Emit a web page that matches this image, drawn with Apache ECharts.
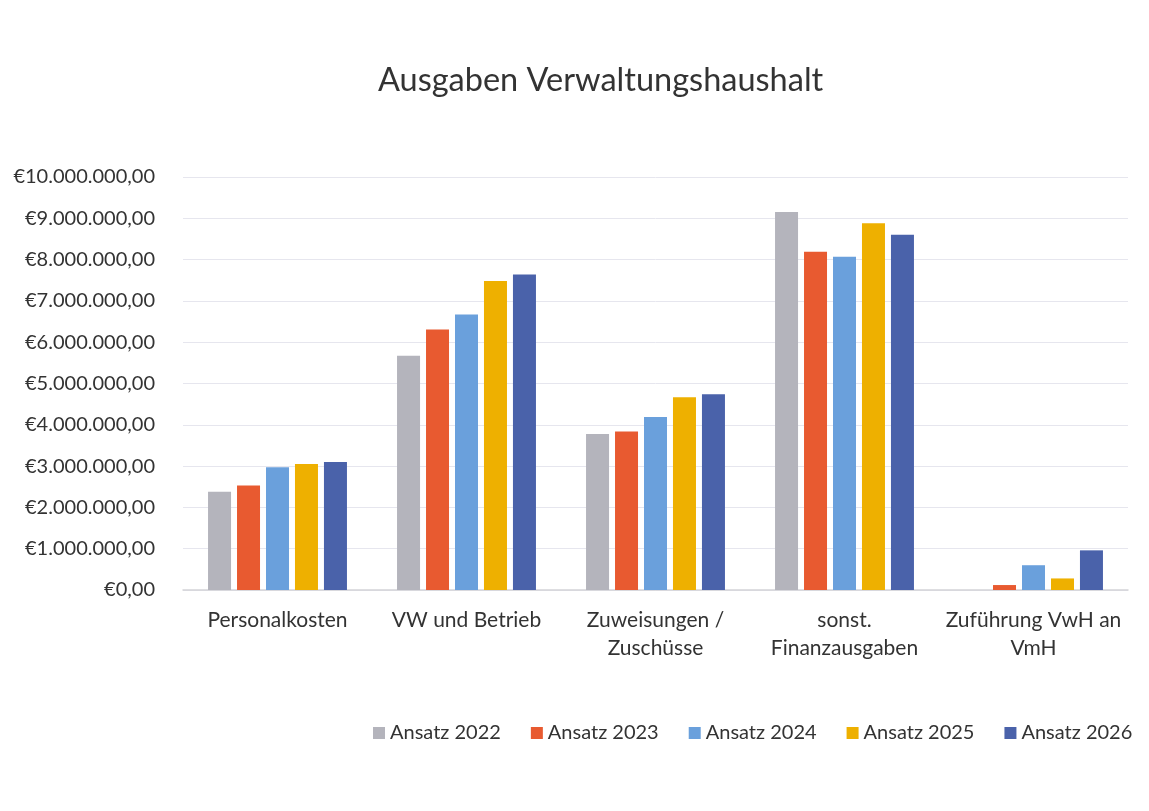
<!DOCTYPE html>
<html>
<head>
<meta charset="utf-8">
<script src="https://cdn.jsdelivr.net/npm/echarts@6/dist/echarts.min.js"></script>
<style>
  html, body { margin: 0; padding: 0; background: #fff; }
  #chart { width: 1149px; height: 811px; }
</style>
</head>
<body>
<div id="chart"></div>
<script>
// Kategorien und Werte
const categories = ['Personalkosten', 'VW und Betrieb', 'Zuweisungen /\nZuschüsse', 'sonst.\nFinanzausgaben', 'Zuführung VwH an\nVmH'];
const seriesNames = ['Ansatz 2022', 'Ansatz 2023', 'Ansatz 2024', 'Ansatz 2025', 'Ansatz 2026'];
const ansatz2022 = [2380000, 5670000, 3780000, 9150000, 0];
const ansatz2023 = [2530000, 6310000, 3840000, 8190000, 120000];
const ansatz2024 = [2970000, 6670000, 4190000, 8070000, 600000];
const ansatz2025 = [3050000, 7480000, 4670000, 8880000, 280000];
const ansatz2026 = [3100000, 7640000, 4740000, 8600000, 960000];
const colors = ['#b4b4bc', '#e85a30', '#6aa0dc', '#eeb000', '#4a62aa'];

const font = 'Lato, "Open Sans", sans-serif';

function euro(v) {
  const s = Math.round(v).toString().replace(/\B(?=(\d{3})+(?!\d))/g, '.');
  return '€' + s + ',00';
}

const chart = echarts.init(document.getElementById('chart'));

const allData = [ansatz2022, ansatz2023, ansatz2024, ansatz2025, ansatz2026];

chart.setOption({
  animation: false,
  backgroundColor: '#fff',
  title: {
    text: 'Ausgaben Verwaltungshaushalt',
    left: 373,
    top: 59,
    textStyle: { fontFamily: font, fontSize: 32.5, fontWeight: 'normal', color: '#333' }
  },
  legend: {
    data: seriesNames,
    left: 368,
    top: 718,
    itemWidth: 12,
    itemHeight: 12,
    itemGap: 30,
    icon: 'rect',
    textStyle: { fontFamily: font, fontSize: 20, color: '#333' }
  },
  grid: { left: 183, right: 21, top: 177, bottom: 221 },
  xAxis: {
    type: 'category',
    data: categories,
    axisTick: { show: false },
    axisLine: { lineStyle: { color: '#d4d4d8', width: 1.5 } },
    axisLabel: {
      fontFamily: font, fontSize: 21, color: '#333',
      margin: 16, lineHeight: 28, interval: 0
    }
  },
  yAxis: {
    type: 'value',
    min: 0,
    max: 10000000,
    interval: 1000000,
    axisLine: { show: false },
    axisTick: { show: false },
    splitLine: { lineStyle: { color: '#e6e6ee', width: 1 } },
    axisLabel: {
      fontFamily: font, fontSize: 20, color: '#333', margin: 28,
      formatter: euro
    }
  },
  series: seriesNames.map((name, i) => ({
    name: name,
    type: 'bar',
    data: allData[i],
    barWidth: 23,
    barGap: '26%',
    itemStyle: { color: colors[i] }
  }))
});
</script>
</body>
</html>
